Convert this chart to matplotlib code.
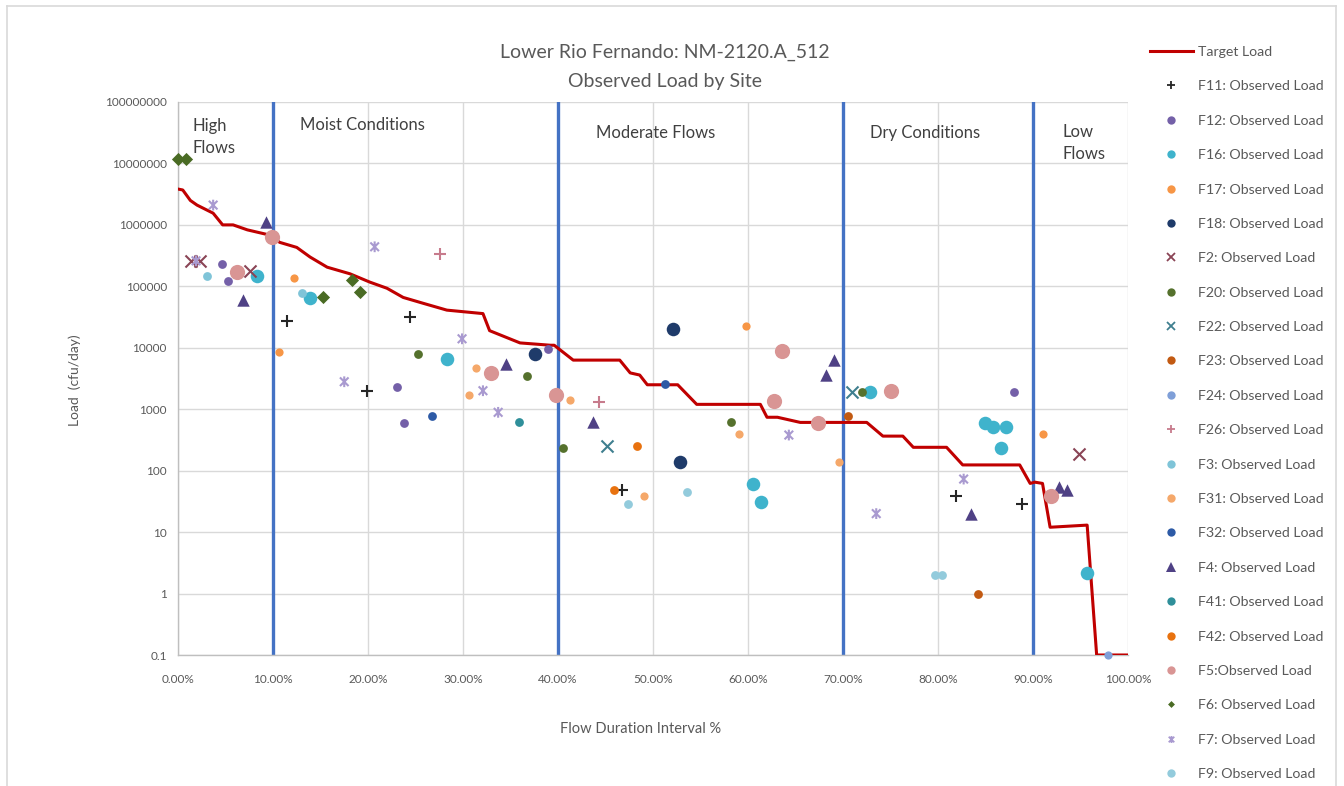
import matplotlib
matplotlib.use("Agg")
import matplotlib.pyplot as plt
from matplotlib.path import Path
from matplotlib.lines import Line2D
from matplotlib.ticker import PercentFormatter, FixedLocator, FixedFormatter
import numpy as np

plt.rcParams['font.family'] = ['Lato', 'DejaVu Sans']

# ---------------- data ----------------
target_pct = [0, 0.5, 1.3, 2.0, 3.7, 4.7, 5.8, 7.3, 9.7, 10.7, 12.5, 13.9, 15.7, 18.1, 20.2,
              22.0, 23.7, 25.8, 28.3, 32.1, 32.8, 36.0, 39.2, 39.6, 41.6, 46.5, 47.6, 48.6,
              49.4, 52.6, 54.6, 61.3, 62.0, 63.1, 65.5, 72.5, 74.2, 76.3, 77.4, 80.9, 82.6,
              88.6, 89.7, 90.2, 91.0, 91.8, 95.7, 96.7, 100.0]
target_load = [3.83e6, 3.7e6, 2.5e6, 2.1e6, 1.55e6, 1.0e6, 1.0e6, 8.3e5, 6.8e5, 5.2e5, 4.3e5,
               3.0e5, 2.05e5, 1.6e5, 1.17e5, 9.3e4, 6.6e4, 5.3e4, 4.1e4, 3.6e4, 1.9e4, 1.2e4,
               1.1e4, 1.1e4, 6.3e3, 6.3e3, 3.9e3, 3.6e3, 2.5e3, 2.5e3, 1.2e3, 1.2e3, 740, 740,
               610, 610, 365, 365, 240, 240, 124, 124, 62, 65, 62, 12, 13, 0.1, 0.1]

f11_x = [11.5, 24.4, 19.9, 46.7, 81.9, 88.8]
f11_y = [2.7e4, 3.2e4, 2.0e3, 48, 38, 29]
f12_x = [4.6, 5.3, 23.0, 23.8, 38.9, 88.0]
f12_y = [2.3e5, 1.2e5, 2.3e3, 590, 9.6e3, 1.9e3]
f16_x = [8.3, 13.9, 28.3, 60.5, 61.4, 72.8, 84.9, 85.8, 87.2, 86.6, 95.7]
f16_y = [1.45e5, 6.5e4, 6.5e3, 60, 31, 1.9e3, 590, 510, 510, 230, 2.2]
f17_x = [12.2, 10.6, 59.8, 91.1]
f17_y = [1.35e5, 8.5e3, 2.3e4, 390]
f18_x = [37.6, 52.1, 52.8]
f18_y = [7.9e3, 2.0e4, 140]
f2_x = [1.4, 2.3, 7.6, 94.8]
f2_y = [2.6e5, 2.6e5, 1.8e5, 190]
f20_x = [25.3, 36.7, 40.5, 58.2, 72.0]
f20_y = [8e3, 3.5e3, 230, 630, 1.9e3]
f22_x = [45.2, 70.9]
f22_y = [250, 1.9e3]
f23_x = [70.5, 84.2]
f23_y = [780, 1.0]
f24_x = [97.9]
f24_y = [0.1]
f26_x = [27.6, 44.3]
f26_y = [3.3e5, 1.3e3]
f3_x = [3.0, 13.0]
f3_y = [1.5e5, 7.7e4]
f31_x = [31.4, 30.6, 41.3, 49.0, 59.0, 69.6]
f31_y = [4.7e3, 1.7e3, 1.4e3, 38, 390, 137]
f32_x = [26.7, 51.3]
f32_y = [770, 2.6e3]
f4_x = [9.3, 6.8, 34.5, 43.7, 69.0, 68.2, 83.5, 92.7, 93.6]
f4_y = [1.1e6, 6e4, 5.4e3, 620, 6.3e3, 3.6e3, 19.5, 54, 48]
f41_x = [35.9]
f41_y = [620]
f42_x = [48.3, 45.9]
f42_y = [250, 48]
f5_x = [9.9, 6.2, 32.9, 39.8, 62.7, 63.6, 67.4, 75.0, 91.9]
f5_y = [6.3e5, 1.7e5, 3.9e3, 1.7e3, 1.35e3, 8.8e3, 590, 2.0e3, 38]
f6_x = [0.0, 0.8, 15.3, 18.3, 19.2]
f6_y = [1.2e7, 1.2e7, 6.7e4, 1.25e5, 8.2e4]
f7_x = [3.7, 1.9, 20.7, 29.9, 17.5, 32.1, 33.7, 64.3, 73.5, 82.7]
f7_y = [2.1e6, 2.6e5, 4.4e5, 1.4e4, 2.8e3, 2.0e3, 890, 380, 20, 73]
f9_x = [47.4, 53.6, 79.7, 80.4]
f9_y = [29, 45, 2.0, 2.0]

region_edges = [10, 40, 70, 90]
x_ticks = list(range(0, 101, 10))
y_ticks = [0.1, 1, 10, 100, 1000, 10000, 100000, 1000000, 10000000, 100000000]
y_tick_labels = ["0.1", "1", "10", "100", "1000", "10000", "100000", "1000000", "10000000", "100000000"]

# ---------------- figure ----------------
W, H = 1344, 786
fig = plt.figure(figsize=(W / 100, H / 100), dpi=100)
ax = fig.add_axes([178 / W, 1 - 655 / H, (1128 - 178) / W, (655 - 102) / H])

# outer border
for (xs, ys) in [([7, 1336], [6, 6]), ([7, 7], [6, 786]), ([1336, 1336], [6, 786])]:
    fig.add_artist(Line2D([x / W for x in xs], [1 - y / H for y in ys], color='#d9d9d9', lw=1.2))

ax.set_yscale('log')
ax.set_xlim(0, 100)
ax.set_ylim(0.1, 1e8)
ax.xaxis.set_major_locator(FixedLocator(x_ticks))
ax.xaxis.set_major_formatter(PercentFormatter(xmax=100, decimals=2))
ax.yaxis.set_major_locator(FixedLocator(y_ticks))
ax.yaxis.set_major_formatter(FixedFormatter(y_tick_labels))
ax.yaxis.set_minor_locator(FixedLocator([]))
ax.grid(True, which='major', color='#d9d9d9', lw=1.0)
ax.set_axisbelow(True)
for s in ['top', 'right']:
    ax.spines[s].set_visible(False)
for s in ['left', 'bottom']:
    ax.spines[s].set_color('#bfbfbf')
    ax.spines[s].set_linewidth(1.0)
ax.tick_params(axis='both', length=0, colors='#595959', labelsize=8.5)
ax.tick_params(axis='y', pad=8)
ax.tick_params(axis='x', pad=14)

# region dividers
for e in region_edges:
    ax.axvline(e, color='#4472c4', lw=2.4, zorder=2)

# target line
ax.plot(target_pct, target_load, color='#c00000', lw=2.2, zorder=3, solid_joinstyle='round')

# asterisk marker
ast = Path([(-1, -1), (1, 1), (-1, 1), (1, -1), (0, 1.25), (0, -1.25)],
           [Path.MOVETO, Path.LINETO, Path.MOVETO, Path.LINETO, Path.MOVETO, Path.LINETO])

series = [
    ("F11: Observed Load", f11_x, f11_y, '+', '#262626', 70, 6),
    ("F12: Observed Load", f12_x, f12_y, 'o', '#7460a8', 40, 6),
    ("F16: Observed Load", f16_x, f16_y, 'o', '#3fb3cc', 95, 6),
    ("F17: Observed Load", f17_x, f17_y, 'o', '#f79646', 35, 6),
    ("F18: Observed Load", f18_x, f18_y, 'o', '#1f3b6a', 95, 6),
    ("F2: Observed Load", f2_x, f2_y, 'x', '#8a4455', 75, 6),
    ("F20: Observed Load", f20_x, f20_y, 'o', '#55712d', 40, 6),
    ("F22: Observed Load", f22_x, f22_y, 'x', '#3f7f8f', 75, 6),
    ("F23: Observed Load", f23_x, f23_y, 'o', '#c25a12', 40, 6),
    ("F24: Observed Load", f24_x, f24_y, 'o', '#7f9fd8', 35, 6),
    ("F26: Observed Load", f26_x, f26_y, '+', '#c77b8c', 70, 6),
    ("F3: Observed Load", f3_x, f3_y, 'o', '#7fc4d8', 40, 6),
    ("F31: Observed Load", f31_x, f31_y, 'o', '#f5a86a', 35, 6),
    ("F32: Observed Load", f32_x, f32_y, 'o', '#2d5aa6', 40, 6),
    ("F4: Observed Load", f4_x, f4_y, '^', '#4f4185', 80, 7),
    ("F41: Observed Load", f41_x, f41_y, 'o', '#2f8f9a', 40, 6),
    ("F42: Observed Load", f42_x, f42_y, 'o', '#e8720f', 40, 6),
    ("F5:Observed Load", f5_x, f5_y, 'o', '#d99594', 120, 6),
    ("F6: Observed Load", f6_x, f6_y, 'D', '#4a6b24', 45, 3.5),
    ("F7: Observed Load", f7_x, f7_y, ast, '#a99ad0', 60, 5),
    ("F9: Observed Load", f9_x, f9_y, 'o', '#93cbdc', 40, 6),
]

handles = [Line2D([], [], color='#c00000', lw=2.2)]
labels = ["Target Load"]
for lab, xs, ys, m, c, s, lms in series:
    if m is ast:
        ax.scatter(xs, ys, marker=m, facecolors='none', edgecolors=c, s=s, linewidths=1.5,
                   zorder=4, clip_on=False)
        h = Line2D([], [], marker=m, linestyle='', color=c, markersize=lms, markeredgewidth=1.3,
                   markerfacecolor='none')
    elif m in ('+', 'x'):
        ax.scatter(xs, ys, marker=m, color=c, s=s, linewidths=1.5, zorder=4, clip_on=False)
        h = Line2D([], [], marker=m, linestyle='', color=c, markersize=lms, markeredgewidth=1.3)
    else:
        ax.scatter(xs, ys, marker=m, color=c, s=s, linewidths=0, zorder=4, clip_on=False)
        h = Line2D([], [], marker=m, linestyle='', color=c, markersize=lms, markeredgewidth=0)
    handles.append(h)
    labels.append(lab)

leg = fig.legend(handles, labels, loc='upper left', bbox_to_anchor=(1150 / W, 1 - 46 / H),
                 frameon=False, fontsize=10.2, labelspacing=1.58, handlelength=3.0,
                 handletextpad=0.4, labelcolor='#595959', borderaxespad=0, borderpad=0)

# region labels
txt_kw = dict(fontsize=12, color='#404040', va='center', ha='left')
fig.text(193 / W, 1 - 137 / H, "High\nFlows", linespacing=1.4, **txt_kw)
fig.text(300 / W, 1 - 125 / H, "Moist Conditions", **txt_kw)
fig.text(596 / W, 1 - 133 / H, "Moderate Flows", **txt_kw)
fig.text(870 / W, 1 - 133 / H, "Dry Conditions", **txt_kw)
fig.text(1062 / W, 1 - 143 / H, "Low\nFlows", linespacing=1.45, **txt_kw)

# titles
fig.text(665 / W, 1 - 52 / H, "Lower Rio Fernando: NM-2120.A_512", fontsize=14, color='#595959',
         ha='center', va='center')
fig.text(665 / W, 1 - 82 / H, "Observed Load by Site", fontsize=14, color='#595959',
         ha='center', va='center')

fig.text(641 / W, 1 - 729 / H, "Flow Duration Interval %", fontsize=10.5, color='#595959',
         ha='center', va='center')
fig.text(75 / W, 1 - 380 / H, "Load  (cfu/day)", fontsize=10, color='#595959',
         ha='center', va='center', rotation=90)

fig.savefig("out.png", dpi=100, facecolor='white')
